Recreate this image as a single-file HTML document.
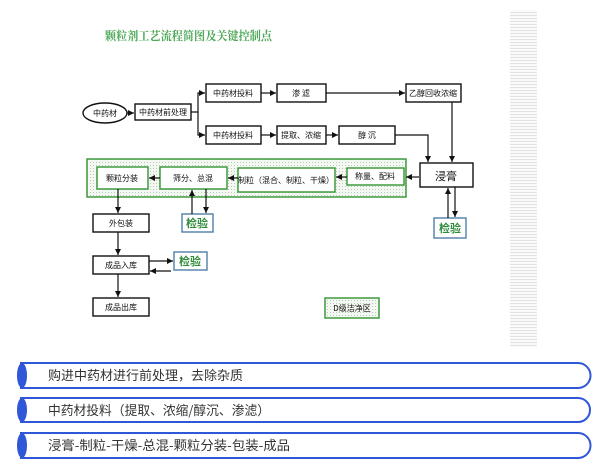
<!DOCTYPE html>
<html><head><meta charset="utf-8"><style>
body{margin:0;width:607px;height:475px;background:#fff;overflow:hidden;font-family:"Liberation Sans","Noto Sans CJK SC",sans-serif}
</style></head><body>
<svg width="607" height="475" xmlns="http://www.w3.org/2000/svg" style="position:absolute;left:0;top:0">
<defs>
<pattern id="dots" width="3" height="3" patternUnits="userSpaceOnUse"><rect width="3" height="3" fill="#f4f8f2"/><rect width="1" height="1" fill="#b9c8b5"/></pattern>
<pattern id="stripe" width="4" height="3" patternUnits="userSpaceOnUse"><rect width="4" height="3" fill="#fafafa"/><rect width="4" height="1" fill="#e2e2e2"/></pattern>
<marker id="a" markerWidth="6" markerHeight="6" refX="5" refY="3" orient="auto"><path d="M0,0.5 L5,3 L0,5.5z" fill="#111"/></marker>
</defs>
<rect x="510" y="10" width="27" height="337" fill="url(#stripe)"/>
<text x="105" y="40" font-size="12" font-weight="bold" fill="#4ea858" font-family="Noto Serif CJK SC,serif" textLength="167" lengthAdjust="spacingAndGlyphs">颗粒剂工艺流程简图及关键控制点</text>
<g stroke="#111" stroke-width="1.4" fill="#fff" font-size="8">
<ellipse cx="105" cy="113" rx="22" ry="10"/>
<rect x="135" y="104" width="56" height="16"/>
<rect x="206" y="84" width="55" height="18"/>
<rect x="277" y="84" width="49" height="18"/>
<rect x="406" y="84" width="55" height="18"/>
<rect x="206" y="126" width="55" height="18"/>
<rect x="277" y="126" width="49" height="18"/>
<rect x="339" y="126" width="56" height="18"/>
<rect x="420" y="163" width="53" height="24"/>
<rect x="93" y="214" width="56" height="18"/>
<rect x="93" y="256" width="56" height="18"/>
<rect x="93" y="298" width="56" height="18"/>
</g>
<rect x="87" y="159" width="319" height="38" fill="url(#dots)" stroke="#3e9a3e" stroke-width="1.5"/>
<g stroke="#3e9a3e" stroke-width="1.5" fill="#fff">
<rect x="97" y="167" width="51" height="22"/>
<rect x="160" y="167" width="67" height="22"/>
<rect x="238" y="168" width="97" height="24"/>
<rect x="347" y="168" width="57" height="17"/>
</g>
<rect x="325" y="298" width="54" height="20" fill="url(#dots)" stroke="#3e9a3e" stroke-width="1.5"/>
<g stroke="#4f7fa8" stroke-width="1.4" fill="#fff">
<rect x="182" y="214" width="31" height="18"/>
<rect x="174" y="252" width="33" height="18"/>
<rect x="434" y="218" width="32" height="20"/>
</g>
<g stroke="#111" stroke-width="1.2" fill="none" marker-end="url(#a)">
<line x1="127" y1="113" x2="134" y2="113"/>
<path d="M191,112 H198 V93 H205"/>
<path d="M198,112 V135 H205"/>
<line x1="261" y1="93" x2="276" y2="93"/>
<line x1="326" y1="93" x2="405" y2="93"/>
<line x1="261" y1="135" x2="276" y2="135"/>
<line x1="326" y1="135" x2="338" y2="135"/>
<path d="M395,135 H428 V162"/>
<line x1="452" y1="102" x2="452" y2="162"/>
<line x1="419" y1="177" x2="406" y2="177"/>
<line x1="347" y1="177" x2="336" y2="177"/>
<line x1="238" y1="178" x2="228" y2="178"/>
<line x1="160" y1="178" x2="149" y2="178"/>
<line x1="118" y1="189" x2="118" y2="213"/>
<line x1="118" y1="232" x2="118" y2="255"/>
<line x1="118" y1="274" x2="118" y2="297"/>
<line x1="192" y1="214" x2="192" y2="190"/>
<line x1="206" y1="189" x2="206" y2="213"/>
<line x1="149" y1="261" x2="173" y2="261"/>
<line x1="171" y1="271" x2="150" y2="271"/>
<line x1="448" y1="218" x2="448" y2="188"/>
<line x1="455" y1="187" x2="455" y2="217"/>
</g>
<g font-size="8" fill="#111" text-anchor="middle" font-family="Noto Sans CJK SC,sans-serif">
<text x="105" y="116">中药材</text>
<text x="163" y="115">中药材前处理</text>
<text x="233" y="96">中药材投料</text>
<text x="301" y="96">渗 滤</text>
<text x="433" y="96">乙醇回收浓缩</text>
<text x="233" y="138">中药材投料</text>
<text x="301" y="138">提取、浓缩</text>
<text x="367" y="138">醇 沉</text>
<text x="446" y="180" font-size="11">浸膏</text>
<text x="122" y="181">颗粒分装</text>
<text x="193" y="181">筛分、总混</text>
<text x="286" y="183">制粒（混合、制粒、干燥）</text>
<text x="375" y="179">称量、配料</text>
<text x="121" y="226">外包装</text>
<text x="121" y="268">成品入库</text>
<text x="121" y="310">成品出库</text>
<text x="352" y="311">D级洁净区</text>
</g>
<g font-size="11" font-weight="bold" fill="#2e8a3a" text-anchor="middle" font-family="Noto Sans CJK SC,sans-serif">
<text x="197" y="227">检验</text>
<text x="190" y="265">检验</text>
<text x="450" y="232">检验</text>
</g>
<g stroke="#2f57d8" stroke-width="2" fill="none">
<path d="M20,363 H578 A12.5,12.5 0 0 1 578,388 H20"/>
<path d="M20,398 H578 A12,12 0 0 1 578,422 H20"/>
<path d="M20,433 H578 A12.5,12.5 0 0 1 578,458 H20"/>
</g>
<g fill="#2f57d8">
<ellipse cx="22" cy="375.5" rx="5" ry="12.5"/>
<ellipse cx="22" cy="410" rx="5" ry="12"/>
<ellipse cx="22" cy="445.5" rx="5" ry="12.5"/>
</g>
<g font-size="13" fill="#333" font-family="Noto Sans CJK SC,sans-serif">
<text x="48" y="380" textLength="195" lengthAdjust="spacingAndGlyphs">购进中药材进行前处理，去除杂质</text>
<text x="48" y="415" textLength="222" lengthAdjust="spacingAndGlyphs">中药材投料（提取、浓缩/醇沉、渗滤）</text>
<text x="48" y="450" textLength="242" lengthAdjust="spacingAndGlyphs">浸膏-制粒-干燥-总混-颗粒分装-包装-成品</text>
</g>
</svg>
</body></html>
